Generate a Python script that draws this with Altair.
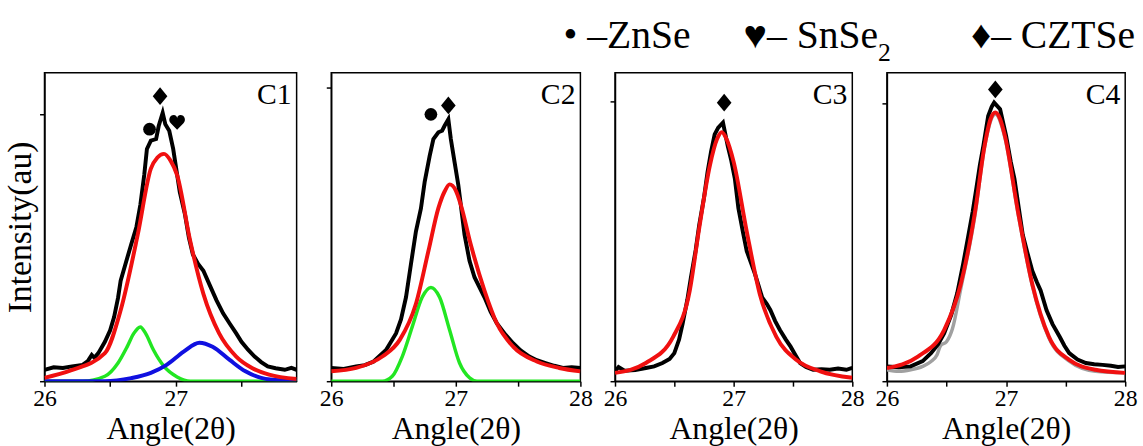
import altair as alt
import pandas as pd

FONT = "Liberation Serif, Times New Roman, DejaVu Serif, serif"

# ---------------- C1 ----------------
c1_exp_x = [26.00, 26.07, 26.14, 26.21, 26.29, 26.33, 26.36, 26.38, 26.41, 26.46, 26.50, 26.53, 26.56,
            26.58, 26.62, 26.66, 26.70, 26.73, 26.76, 26.78, 26.81, 26.85, 26.87, 26.90, 26.92, 26.95,
            26.98, 27.03, 27.07, 27.10, 27.13, 27.17, 27.21, 27.26, 27.31, 27.36, 27.41, 27.46, 27.50,
            27.55, 27.60, 27.65, 27.70, 27.76, 27.83, 27.88, 27.92]
c1_exp_y = [3.7, 4.5, 4.3, 4.8, 5.3, 6.5, 8.5, 7.6, 9.1, 12.8, 16.5, 20.8, 27.0,
            32.6, 38.5, 44.3, 50.0, 57.2, 67.0, 75.3, 78.0, 78.5, 82.8, 87.0, 83.3, 81.2,
            75.3, 61.4, 54.0, 46.5, 41.1, 38.0, 35.8, 31.0, 26.2, 22.0, 18.7, 15.5, 12.8,
            10.2, 8.0, 6.2, 4.8, 4.2, 3.7, 4.3, 3.7]
c1_fit_x = [26.00, 26.20, 26.46, 26.58, 26.71, 26.81, 26.86, 26.91, 26.96, 27.01, 27.11, 27.21, 27.33,
            27.46, 27.58, 27.71, 27.92]
c1_fit_y = [1.1, 3.5, 9.1, 23.0, 47.5, 68.9, 72.5, 73.7, 71.5, 66.8, 45.4, 28.3, 15.5,
            8.0, 4.3, 2.1, 0.7]
c1_zn_x = [26.00, 26.29, 26.46, 26.56, 26.63, 26.68, 26.73, 26.77, 26.83, 26.91, 27.01, 27.11, 27.92]
c1_zn_y = [0.0, 0.0, 1.6, 5.9, 11.2, 15.5, 17.6, 15.5, 10.1, 4.8, 1.4, 0.0, 0.0]
c1_sn_x = [26.00, 26.46, 26.66, 26.81, 26.93, 27.06, 27.18, 27.28, 27.41, 27.53, 27.65, 27.80, 27.92]
c1_sn_y = [0.0, 0.0, 1.0, 2.7, 5.3, 9.6, 12.5, 11.2, 6.9, 3.2, 1.1, 0.3, 0.2]

# ---------------- C2 ----------------
c2_exp_x = [26.00, 26.10, 26.20, 26.27, 26.34, 26.44, 26.52, 26.56, 26.60, 26.64, 26.68, 26.72, 26.75,
            26.79, 26.82, 26.86, 26.89, 26.91, 26.94, 26.96, 26.99, 27.02, 27.07, 27.11, 27.15, 27.23,
            27.28, 27.33, 27.40, 27.46, 27.52, 27.59, 27.65, 27.72, 27.79, 27.86, 27.93, 28.00]
c2_exp_y = [4.3, 4.0, 4.8, 5.2, 6.4, 10.1, 15.5, 20.0, 27.2, 38.0, 48.6, 56.0, 64.6,
            73.0, 78.5, 80.7, 81.2, 82.8, 84.9, 78.5, 71.0, 63.6, 47.5, 39.0, 33.7, 27.2,
            22.5, 18.7, 15.0, 12.3, 10.0, 8.0, 6.8, 5.9, 5.0, 4.3, 4.5, 4.3]
c2_fit_x = [26.00, 26.20, 26.41, 26.55, 26.68, 26.78, 26.86, 26.91, 26.95, 27.00, 27.04, 27.12, 27.23,
            27.33, 27.46, 27.65, 27.83, 28.00]
c2_fit_y = [3.2, 4.3, 8.0, 13.4, 25.1, 42.2, 56.1, 61.5, 63.8, 61.8, 57.2, 44.3, 29.4,
            18.7, 11.2, 6.4, 4.3, 3.2]
c2_zn_x = [26.00, 26.41, 26.49, 26.57, 26.65, 26.73, 26.80, 26.87, 26.95, 27.03, 27.11, 27.17, 28.00]
c2_zn_y = [0.0, 0.0, 1.6, 8.0, 17.6, 27.2, 30.4, 27.2, 16.6, 5.9, 1.1, 0.0, 0.0]

# ---------------- C3 ----------------
c3_exp_x = [26.00, 26.03, 26.08, 26.17, 26.26, 26.33, 26.40, 26.46, 26.50, 26.54, 26.57, 26.61, 26.64,
            26.68, 26.71, 26.75, 26.78, 26.81, 26.84, 26.87, 26.91, 26.95, 26.98, 27.01, 27.04, 27.08,
            27.11, 27.15, 27.18, 27.21, 27.24, 27.28, 27.31, 27.35, 27.39, 27.44, 27.48, 27.52, 27.56,
            27.61, 27.67, 27.74, 27.81, 27.88, 27.95, 28.00]
c3_exp_y = [3.2, 4.6, 3.4, 3.6, 4.3, 4.8, 5.9, 7.2, 9.1, 13.5, 18.7, 26.5, 33.7,
            42.5, 50.7, 59.5, 67.8, 74.5, 80.0, 82.2, 83.8, 76.3, 71.5, 65.7, 56.1, 48.0,
            42.2, 38.0, 34.7, 31.0, 27.2, 25.0, 23.0, 19.5, 16.6, 13.5, 11.2, 8.5, 5.9,
            4.6, 3.7, 3.9, 3.7, 4.1, 3.7, 4.3]
c3_fit_x = [26.00, 26.26, 26.49, 26.63, 26.71, 26.80, 26.86, 26.90, 26.94, 27.00, 27.11, 27.22, 27.36,
            27.53, 27.73, 28.00]
c3_fit_y = [2.7, 5.9, 14.4, 29.4, 49.7, 70.0, 78.5, 80.7, 78.5, 71.1, 48.6, 28.3, 14.4,
            6.9, 3.2, 1.1]

# ---------------- C4 ----------------
c4_exp_x = [26.00, 26.10, 26.20, 26.30, 26.37, 26.43, 26.48, 26.54, 26.59, 26.64, 26.68, 26.72, 26.75,
            26.78, 26.81, 26.85, 26.88, 26.90, 26.95, 27.00, 27.04, 27.07, 27.14, 27.18, 27.22, 27.26,
            27.29, 27.34, 27.39, 27.45, 27.49, 27.53, 27.60, 27.67, 27.74, 27.81, 27.88, 27.94, 28.00]
c4_exp_y = [4.8, 4.5, 4.8, 6.5, 9.1, 12.0, 15.5, 21.5, 28.5, 38.0, 46.5, 55.0, 62.4,
            70.0, 76.4, 86.0, 89.0, 90.3, 88.2, 79.6, 71.0, 65.7, 47.5, 41.5, 35.8, 32.0,
            29.4, 23.0, 18.5, 14.4, 11.5, 9.1, 7.0, 5.9, 5.5, 5.3, 5.0, 4.6, 4.8]
c4_ref_x = [26.00, 26.10, 26.20, 26.30, 26.37, 26.42, 26.45, 26.50, 26.55, 26.62, 26.74, 26.82, 26.91,
            26.99, 27.10, 27.22, 27.36, 27.53, 27.75, 28.00]
c4_ref_y = [3.7, 3.2, 3.7, 4.8, 6.4, 8.5, 11.5, 12.8, 17.0, 30.0, 54.0, 76.0, 86.5,
            79.0, 54.5, 31.0, 14.0, 6.5, 3.2, 2.7]
c4_fit_x = [26.00, 26.26, 26.48, 26.62, 26.74, 26.82, 26.87, 26.91, 26.95, 26.99, 27.10, 27.22, 27.36,
            27.53, 27.75, 28.00]
c4_fit_y = [4.3, 8.0, 16.6, 31.5, 55.0, 76.4, 85.0, 87.1, 85.0, 79.6, 55.0, 31.5, 14.4,
            6.9, 3.7, 2.7]

# ---------------- phase markers ----------------
m1_x = [26.80, 26.88, 27.01]
m1_y = [81.7, 92.4, 83.9]
m1_k = ["ZnSe", "CZTSe", "SnSe2"]
m2_x = [26.80, 26.94]
m2_y = [86.5, 89.4]
m2_k = ["ZnSe", "CZTSe"]
m3_x = [26.92]
m3_y = [90.3]
m3_k = ["CZTSe"]
m4_x = [26.91]
m4_y = [94.6]
m4_k = ["CZTSe"]

panel_names = ["C1", "C2", "C3", "C4"]
x_max = [27.92, 28.0, 28.0, 28.0]
y_ticks = [86.5, 95.2, 90.8, 90.1]
widths = [255, 252, 240, 241]

legend_items = ["•\u00a0–ZnSe", "♥– SnSe", "♦– CZTSe"]
legend_sub = "2"

series_order = ["ref", "exp", "zn", "sn", "fit"]
series_colors = ["#a0a0a0", "#000000", "#22e622", "#1010e0", "#f01010"]
series_widths = [3.5, 4.0, 3.5, 4.0, 4.0]

HEART = ("M0,1 L-0.85,0.12 C-1.25,-0.3 -1.0,-1 -0.45,-1 C-0.18,-1 0,-0.8 0,-0.55 "
         "C0,-0.8 0.18,-1 0.45,-1 C1.0,-1 1.25,-0.3 0.85,0.12 Z")
DIAMOND = "M0,-1.05 L0.87,0 L0,1.05 L-0.87,0 Z"


def long(pairs):
    rows = []
    for name, xs, ys in pairs:
        for i, (a, b) in enumerate(zip(xs, ys)):
            rows.append({"series": name, "angle": a, "intensity": b, "order": i})
    return pd.DataFrame(rows)


curves = [
    long([("exp", c1_exp_x, c1_exp_y), ("zn", c1_zn_x, c1_zn_y), ("sn", c1_sn_x, c1_sn_y),
          ("fit", c1_fit_x, c1_fit_y)]),
    long([("exp", c2_exp_x, c2_exp_y), ("zn", c2_zn_x, c2_zn_y), ("fit", c2_fit_x, c2_fit_y)]),
    long([("exp", c3_exp_x, c3_exp_y), ("fit", c3_fit_x, c3_fit_y)]),
    long([("ref", c4_ref_x, c4_ref_y), ("exp", c4_exp_x, c4_exp_y), ("fit", c4_fit_x, c4_fit_y)]),
]
markers = [
    pd.DataFrame({"angle": m1_x, "intensity": m1_y, "phase": m1_k}),
    pd.DataFrame({"angle": m2_x, "intensity": m2_y, "phase": m2_k}),
    pd.DataFrame({"angle": m3_x, "intensity": m3_y, "phase": m3_k}),
    pd.DataFrame({"angle": m4_x, "intensity": m4_y, "phase": m4_k}),
]


def text_layer(txt, x, y, size, align="left", baseline="alphabetic"):
    return alt.Chart(pd.DataFrame({"t": [txt]})).mark_text(
        font=FONT, fontSize=size, align=align, baseline=baseline, color="black"
    ).encode(x=alt.value(x), y=alt.value(y), text="t:N")


def panel(i):
    df = curves[i]
    xs = alt.Scale(domain=[26, x_max[i]], nice=False, zero=False)
    ys = alt.Scale(domain=[0, 100], nice=False, zero=True)
    xaxis = alt.Axis(values=[26, 26.5, 27, 27.5, 28],
                     labelExpr="datum.value % 1 === 0 ? format(datum.value, 'd') : ''",
                     title="Angle(2θ)")
    yaxis = alt.Axis(values=[0, y_ticks[i]], labels=False,
                     title="Intensity(au)" if i == 0 else None)
    layers = []
    for s, c, w in zip(series_order, series_colors, series_widths):
        sub = df[df.series == s]
        if len(sub) == 0:
            continue
        interp = "linear" if s == "exp" else "monotone"
        layers.append(
            alt.Chart(sub).mark_line(color=c, strokeWidth=w, interpolate=interp, clip=True).encode(
                x=alt.X("angle:Q", scale=xs, axis=xaxis),
                y=alt.Y("intensity:Q", scale=ys, axis=yaxis),
                order="order:Q",
            )
        )
    pts = alt.Chart(markers[i]).mark_point(filled=True, color="black", opacity=1, strokeWidth=0).encode(
        x=alt.X("angle:Q", scale=xs),
        y=alt.Y("intensity:Q", scale=ys),
        shape=alt.Shape("phase:N", scale=alt.Scale(domain=["ZnSe", "SnSe2", "CZTSe"],
                                                   range=["circle", HEART, DIAMOND]), legend=None),
        size=alt.Size("phase:N", scale=alt.Scale(domain=["ZnSe", "SnSe2", "CZTSe"],
                                                 range=[165, 290, 360]), legend=None),
    )
    extra = [text_layer(panel_names[i], widths[i] - 5, 23, 30, align="right", baseline="middle")]
    if i == 1:
        # phase legend above the panels (positions relative to panel C2)
        extra += [
            text_layer(legend_items[0], 235, -25, 40),
            text_layer(legend_items[1], 417, -25, 40),
            text_layer(legend_sub, 553, -12, 26),
            text_layer(legend_items[2], 647, -25, 40),
        ]
    return alt.layer(*layers, pts, *extra).properties(width=widths[i], height=312)


chart = alt.hconcat(*[panel(i) for i in range(4)], spacing=35, bounds="flush").properties(
    padding={"left": 3, "top": 13, "right": 5, "bottom": 0},
).configure_view(stroke="black", strokeWidth=1.5).configure_axis(
    domainColor="black", domainWidth=1.5, tickColor="black", tickWidth=1.5, tickSize=5,
    grid=False, labelFont=FONT, labelFontSize=24, labelColor="black", labelPadding=1,
    titleFont=FONT, titleFontSize=32, titleFontWeight="normal", titleColor="black",
    labelFlush=False,
).configure_axisX(titlePadding=3).configure_axisY(titlePadding=1, titleFontSize=34)

chart.save("out.html", embed_options={"renderer": "svg", "actions": False})
